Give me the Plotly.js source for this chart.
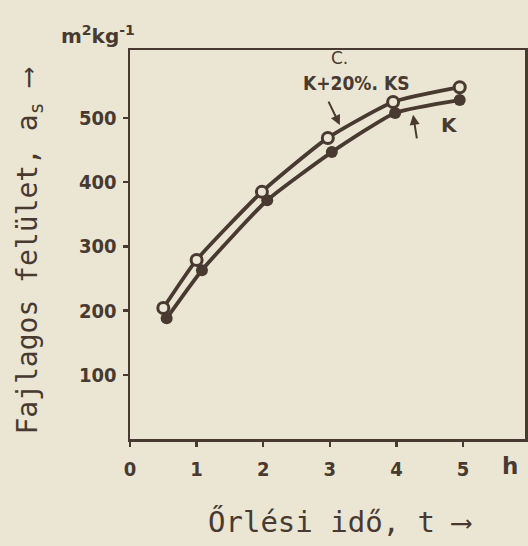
<!DOCTYPE html>
<html>
<head>
<meta charset="utf-8">
<script src="https://cdn.plot.ly/plotly-3.0.1.min.js"></script>
<style>
  html, body { margin: 0; padding: 0; background: #ebe6d4; }
  #chart { width: 528px; height: 546px; }
</style>
</head>
<body>
<div id="chart"></div>
<script>
// Grinding time (h) and specific surface (m2/kg)
const timeKS = [0.5, 1.0, 1.98, 2.97, 3.95, 4.95];
const surfaceKS = [204, 279, 385, 469, 525, 548];   // K+20% KS (open circles)
const timeK = [0.55, 1.08, 2.06, 3.03, 3.98, 4.95];
const surfaceK = [188, 263, 372, 447, 508, 528];    // K (filled circles)
const xTickVals = [0, 1, 2, 3, 4, 5];
const xTickText = ['0', '1', '2', '3', '4', '5'];
const yTickVals = [100, 200, 300, 400, 500];
const yTickText = ['100', '200', '300', '400', '500'];

const ink = 'rgb(72,58,48)';
const paper = '#ebe6d4';
const tickFont = {family: 'DejaVu Sans Condensed, DejaVu Sans', size: 20, color: ink, weight: 'bold'};

const traces = [
  {
    x: timeK, y: surfaceK, mode: 'lines+markers', name: 'K',
    line: {color: ink, width: 3.8, shape: 'spline', smoothing: 0.5},
    marker: {color: ink, size: 12, symbol: 'circle'}
  },
  {
    x: timeKS, y: surfaceKS, mode: 'lines+markers', name: 'K+20% KS',
    line: {color: ink, width: 3.8, shape: 'spline', smoothing: 0.5},
    marker: {color: paper, size: 11, symbol: 'circle', line: {color: ink, width: 3}}
  }
];

const layout = {
  width: 528, height: 546,
  paper_bgcolor: paper, plot_bgcolor: paper,
  margin: {l: 130, r: 3, t: 50, b: 107},
  showlegend: false,
  xaxis: {
    range: [0, 5.93], showgrid: false, zeroline: false,
    showline: true, mirror: true, linecolor: ink, linewidth: 2.5,
    ticks: 'outside', ticklen: 5, tickwidth: 2.5, tickcolor: ink,
    tickvals: xTickVals, ticktext: xTickText, tickfont: tickFont,
    ticklabelstandoff: 5
  },
  yaxis: {
    range: [0, 606], showgrid: false, zeroline: false,
    showline: true, mirror: true, linecolor: ink, linewidth: 2.5,
    ticks: 'outside', ticklen: 5, tickwidth: 2.5, tickcolor: ink,
    tickvals: yTickVals, ticktext: yTickText, tickfont: tickFont,
    ticklabelstandoff: 2
  },
  annotations: [
    {xref: 'paper', yref: 'paper', x: -0.18, y: 1.0, xanchor: 'left', yanchor: 'bottom',
     text: 'm<sup>2</sup>kg<sup>-1</sup>', showarrow: false,
     font: {family: 'DejaVu Sans', size: 20, color: ink, weight: 'bold'}},
    {xref: 'paper', yref: 'paper', x: 1.0, y: 0, xanchor: 'right', yanchor: 'top', yshift: -12, xshift: -5,
     text: 'h', showarrow: false,
     font: {family: 'DejaVu Sans', size: 23, color: ink, weight: 'bold'}},
    {xref: 'paper', yref: 'paper', x: -0.255, y: 0.485, xanchor: 'center', yanchor: 'middle', textangle: -90,
     text: 'Fajlagos felület, a<sub>s</sub> ⟶', showarrow: false,
     font: {family: 'DejaVu Sans Mono', size: 28, color: ink}},
    {xref: 'paper', yref: 'paper', x: 0.53, y: 0, xanchor: 'center', yanchor: 'top', yshift: -64,
     text: 'Őrlési idő, t ⟶', showarrow: false,
     font: {family: 'DejaVu Sans Mono', size: 29, color: ink}},
    {x: 3.15, y: 593, xref: 'x', yref: 'y', text: 'C.', showarrow: false,
     font: {family: 'DejaVu Sans', size: 17, color: ink}},
    {x: 3.4, y: 555, xref: 'x', yref: 'y', text: 'K+20%. KS', showarrow: false,
     font: {family: 'DejaVu Sans Condensed, DejaVu Sans', size: 19, color: ink, weight: 'bold'}},
    {x: 3.15, y: 489, xref: 'x', yref: 'y', text: '', showarrow: true, ax: -12, ay: -25,
     arrowhead: 2, arrowsize: 1, arrowwidth: 2, arrowcolor: ink},
    {x: 4.8, y: 489, xref: 'x', yref: 'y', text: 'K', showarrow: false,
     font: {family: 'DejaVu Sans', size: 20, color: ink, weight: 'bold'}},
    {x: 4.25, y: 505, xref: 'x', yref: 'y', text: '', showarrow: true, ax: 4, ay: 25,
     arrowhead: 2, arrowsize: 1, arrowwidth: 2, arrowcolor: ink}
  ]
};

Plotly.newPlot('chart', traces, layout, {displayModeBar: false, staticPlot: true});
</script>
</body>
</html>
